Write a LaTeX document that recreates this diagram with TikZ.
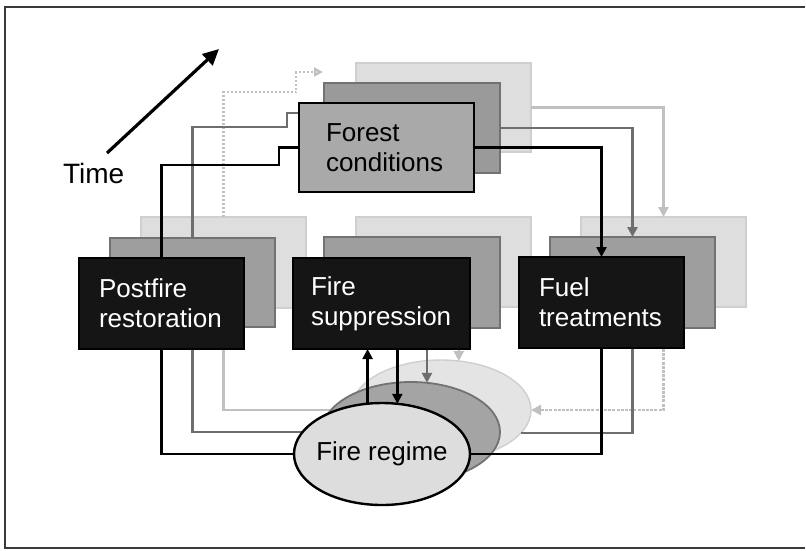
\documentclass[tikz,border=0pt]{standalone}
\usepackage{fontspec}
\setmainfont{Liberation Sans}
\usetikzlibrary{arrows.meta,shapes.geometric,calc}
\hyphenpenalty=10000
\exhyphenpenalty=10000

\definecolor{darkfill}{HTML}{151515}
\definecolor{midfill}{HTML}{9E9E9E}
\definecolor{midline}{HTML}{727272}
\definecolor{backfill}{HTML}{DEDEDE}
\definecolor{backline}{HTML}{CFCFCF}
\definecolor{fcfront}{HTML}{A9A9A9}
\definecolor{fcmid}{HTML}{9A9A9A}
\definecolor{ellfront}{HTML}{DDDDDD}
\definecolor{ellmid}{HTML}{A4A4A4}
\definecolor{ellback}{HTML}{E4E4E4}
\definecolor{grayline}{HTML}{6E6E6E}
\definecolor{lightline}{HTML}{C0C0C0}
\definecolor{framecol}{HTML}{3A3A3A}

\begin{document}
\begin{tikzpicture}[x=1pt,y=-1pt,
  every node/.style={inner sep=0pt, outer sep=0pt},
  lbl/.style={font=\fontsize{26}{30}\selectfont, align=left},
  box/.style={rectangle, lbl},
  frontbox/.style={box, draw=black, fill=darkfill, text=white, line width=2.4pt},
  midbox/.style={box, draw=midline, fill=midfill, line width=1.8pt},
  backbox/.style={box, draw=backline, fill=backfill, line width=1.4pt},
  fcfrontbox/.style={box, draw=black, fill=fcfront, text=black, line width=2.4pt},
  fcmidbox/.style={box, draw=midline, fill=fcmid, line width=1.8pt},
  blk/.style={draw=black, line width=2.3pt},
  gry/.style={draw=grayline, line width=2.8pt},
  lgt/.style={draw=lightline, line width=2.4pt},
  dotline/.style={lgt, dash pattern=on 2pt off 2pt},
  tipb/.style={-{Triangle[length=10pt,width=10pt]}},
  tipl/.style={-{Triangle[length=9pt,width=9pt,open,fill=white]}},
]
\useasboundingbox (0,0) rectangle (806,550);
\draw[framecol, line width=1.2pt] (805,7) -- (5,7) -- (5,548) -- (805,548);

% ---------- back layer ----------
\node[backbox, minimum width=175, minimum height=89] (fcb) at (443.5,107.5) {};
\node[backbox, minimum width=165, minimum height=91] (prb) at (223.5,262.5) {};
\node[backbox, minimum width=175, minimum height=90] (fsb) at (443.5,262) {};
\node[backbox, minimum width=165, minimum height=90] (ftb) at (663.5,262) {};
\node[ellipse, draw=backline, fill=ellback, line width=1.4pt, minimum width=180, minimum height=100] (elb) at (441,410) {};

\coordinate (dotend) at (323,72);
\draw[dotline, tipl, lightline] (prb.north) |- ($(fcb.west)+(-60,-15.5)$) |- (dotend);
\draw[lgt, tipb, lightline] (fcb.east) -| (ftb.north);
\draw[lgt] (prb.south) |- (elb.west);
\draw[lgt, dash pattern=on 3pt off 1.2pt, tipb, lightline] (ftb.south) |- (elb.east);
\draw[lgt, tipb, lightline] (elb.70.9 |- fsb.south) -- (elb.70.9);

% ---------- middle layer ----------
\node[fcmidbox, minimum width=176, minimum height=90] (fcm) at (412,128) {};
\node[midbox, minimum width=165, minimum height=89] (prm) at (192.5,282.5) {};
\node[midbox, minimum width=176, minimum height=91] (fsm) at (412,282.5) {};
\node[midbox, minimum width=165, minimum height=91] (ftm) at (632.5,282.5) {};
\node[ellipse, draw=midline, fill=ellmid, line width=1.8pt, minimum width=178, minimum height=100] (elm) at (411,432) {};

\draw[gry] (prm.north) |- ($(fcm.west)+(-37,-1)$) |- ($(fcm.north west)+(0,30)$);
\draw[gry, tipb, grayline] (fcm.east) -| (ftm.north);
\draw[gry] (prm.south) |- (elm.west);
\draw[gry] (ftm.south) |- (elb.-16);
\draw[gry, tipb, grayline] (elm.72 |- fsm.south) -- (elm.72);

% ---------- front layer ----------
\node[fcfrontbox, minimum width=175, minimum height=89, text width=121] (fc) at (386.5,147.5) {Forest\\conditions};
\node[frontbox, minimum width=165, minimum height=91, text width=125] (pr) at (161.5,303.5) {Postfire\\restoration};
\node[frontbox, minimum width=177, minimum height=91, text width=141] (fs) at (381.5,303.5) {Fire\\suppression};
\node[frontbox, minimum width=165, minimum height=91, text width=125] (ft) at (601.5,302.5) {Fuel\\treatments};
\node[ellipse, draw=black, fill=ellfront, line width=2.4pt, minimum width=176, minimum height=102, lbl] (elf) at (382,454) {\makebox[0pt]{Fire regime}};

\draw[blk] (pr.north) |- ($(fc.west)+(-20,17.5)$) |- (fc.west);
\draw[blk, tipb] (fc.east) -| (ft.north);
\draw[blk] (pr.south) |- (elf.west);
\draw[blk] (ft.south) |- (elf.east);
\draw[blk, tipb] (elf.106.6) -- (elf.106.6 |- fs.south);
\draw[blk, tipb] (elf.73.4 |- fs.south) -- (elf.73.4);

% ---------- time ----------
\node[anchor=base west, font=\fontsize{28}{32}\selectfont] (time) at (63,183) {Time};
\coordinate (t0) at (107,153);
\coordinate (t1) at (219,49);
\draw[line width=3.2pt, -{Triangle[length=16pt,width=15pt]}] (t0) -- (t1);
\end{tikzpicture}
\end{document}
